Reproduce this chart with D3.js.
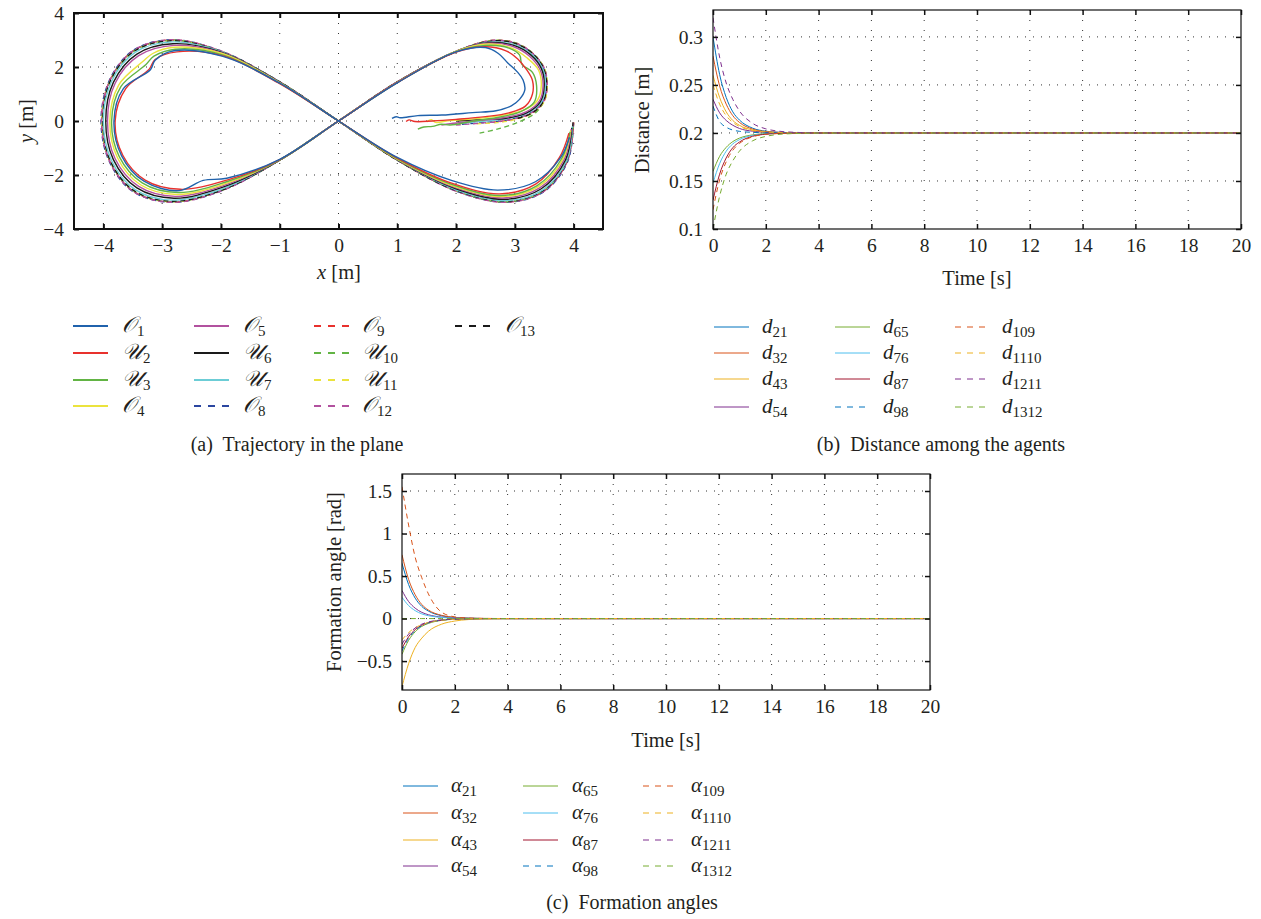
<!DOCTYPE html>
<html><head><meta charset="utf-8">
<script src="https://cdn.jsdelivr.net/npm/d3@7"></script>
<style>
body{margin:0;background:#fff}
svg{display:block}
text{font-family:"Liberation Serif","Times New Roman",serif;fill:#231f20}
</style>
</head><body>
<svg id="chart" width="1261" height="919"></svg>
<script>
// ---------------- DATA ----------------
// (a) trajectories [x, y] in metres
const traj1 = [[0.91,0.1],[0.98,0.16],[1.05,0.12],[1.35,0.2],[1.76,0.22],[2.28,0.31],[2.68,0.38],[2.94,0.56],[3.08,0.8],[3.17,1.15],[3.14,1.52],[3.05,1.8],[2.88,2.15],[2.72,2.5],[2.5,2.72],[2.0,2.56],[1.02,1.44],[0,0],[-1.0,-1.42],[-1.9,-2.12],[-2.3,-2.2],[-2.71,-2.58],[-3.31,-2.23],[-3.69,-1.29],[-3.82,0],[-3.66,1.2],[-3.2,1.9],[-3.12,2.25],[-2.8,2.6],[-1.98,2.4],[-1.0,1.4],[0,0],[1.0,-1.35],[1.92,-2.2],[2.71,-2.56],[3.35,-2.25],[3.78,-1.35],[3.93,-0.6]];
const traj2 = [[1.15,-0.02],[1.2,0.04],[1.3,-0.02],[1.6,0.0],[2.0,0.06],[2.5,0.16],[2.9,0.3],[3.18,0.55],[3.3,1.0],[3.3,1.5],[3.2,1.9],[3.05,2.3],[2.85,2.6],[2.5,2.75],[2.0,2.55],[1.02,1.45],[0,0],[-1.0,-1.43],[-1.9,-2.19],[-2.69,-2.53],[-3.29,-2.19],[-3.67,-1.27],[-3.8,0],[-3.62,1.2],[-3.22,1.92],[-3.12,2.28],[-2.75,2.56],[-1.95,2.4],[-1.0,1.38],[0,0],[1.01,-1.38],[1.95,-2.32],[2.74,-2.7],[3.36,-2.33],[3.76,-1.35],[3.92,-0.45]];
const traj3 = [[1.35,-0.3],[1.45,-0.22],[1.6,-0.2],[1.75,-0.12],[1.9,-0.15],[2.3,0.0],[2.75,0.15],[3.1,0.35],[3.33,0.7],[3.37,1.3],[3.3,1.8],[3.12,2.1],[3.08,2.45],[2.9,2.7],[2.5,2.8],[2.0,2.57],[1.03,1.46],[0,0],[-1.0,-1.44],[-1.93,-2.27],[-2.73,-2.65],[-3.34,-2.29],[-3.73,-1.32],[-3.86,0],[-3.7,1.28],[-3.28,2.08],[-3.14,2.4],[-2.78,2.66],[-1.97,2.45],[-1.02,1.42],[0,0],[1.02,-1.42],[1.97,-2.38],[2.76,-2.76],[3.38,-2.39],[3.8,-1.38],[3.94,-0.4]];
const traj4 = [[1.5,-0.03],[1.58,0.05],[1.65,-0.05],[1.9,0.02],[2.3,0.08],[2.75,0.2],[3.15,0.4],[3.38,0.75],[3.45,1.3],[3.4,1.9],[3.2,2.35],[2.95,2.7],[2.55,2.85],[2.0,2.58],[1.03,1.47],[0,0],[-1.01,-1.45],[-1.95,-2.34],[-2.75,-2.72],[-3.37,-2.36],[-3.76,-1.36],[-3.89,0],[-3.74,1.33],[-3.33,2.2],[-3.16,2.5],[-2.8,2.73],[-1.98,2.5],[-1.02,1.44],[0,0],[1.02,-1.44],[1.98,-2.43],[2.78,-2.8],[3.4,-2.43],[3.82,-1.4],[3.95,-0.35]];
const traj5 = [[1.75,-0.15],[1.9,-0.1],[2.3,0.0],[2.8,0.12],[3.2,0.35],[3.42,0.75],[3.48,1.3],[3.43,1.9],[3.25,2.4],[2.98,2.75],[2.55,2.88],[2.01,2.59],[1.03,1.48],[0,0],[-1.02,-1.46],[-1.97,-2.4],[-2.78,-2.79],[-3.4,-2.42],[-3.8,-1.4],[-3.93,0],[-3.8,1.4],[-3.4,2.42],[-2.8,2.8],[-1.99,2.52],[-1.03,1.46],[0,0],[1.03,-1.46],[1.99,-2.47],[2.8,-2.85],[3.43,-2.47],[3.84,-1.42],[3.96,-0.3]];
const traj6 = [[2.0,0.0],[2.4,0.05],[2.85,0.1],[3.2,0.3],[3.43,0.7],[3.5,1.3],[3.45,1.95],[3.27,2.45],[2.98,2.8],[2.55,2.9],[2.01,2.59],[1.03,1.48],[0,0],[-1.02,-1.47],[-1.98,-2.46],[-2.8,-2.86],[-3.43,-2.48],[-3.83,-1.43],[-3.96,0],[-3.83,1.43],[-3.43,2.48],[-2.82,2.86],[-2.0,2.55],[-1.03,1.47],[0,0],[1.03,-1.47],[2.0,-2.51],[2.82,-2.9],[3.45,-2.51],[3.86,-1.45],[3.97,-0.25]];
const traj7 = [[2.06,-0.08],[2.4,-0.02],[2.85,0.08],[3.22,0.3],[3.45,0.7],[3.52,1.3],[3.47,1.95],[3.28,2.48],[3.0,2.82],[2.56,2.92],[2.02,2.6],[1.04,1.49],[0,0],[-1.03,-1.48],[-2.0,-2.53],[-2.83,-2.93],[-3.46,-2.54],[-3.86,-1.47],[-4.0,0],[-3.86,1.47],[-3.46,2.54],[-2.83,2.93],[-2.01,2.58],[-1.04,1.49],[0,0],[1.04,-1.49],[2.01,-2.56],[2.84,-2.95],[3.47,-2.56],[3.88,-1.47],[3.98,-0.2]];
const traj8 = [[2.1,-0.12],[2.5,-0.05],[2.9,0.05],[3.25,0.28],[3.47,0.7],[3.54,1.3],[3.49,1.95],[3.3,2.5],[3.0,2.88],[2.6,2.97],[2.02,2.6],[1.04,1.5],[0,0],[-1.04,-1.5],[-2.02,-2.61],[-2.85,-3.01],[-3.5,-2.61],[-3.9,-1.5],[-4.04,0],[-3.9,1.5],[-3.5,2.61],[-2.85,3.01],[-2.02,2.61],[-1.04,1.5],[0,0],[1.04,-1.5],[2.02,-2.61],[2.85,-3.01],[3.5,-2.61],[3.9,-1.5],[4.0,-0.05]];
const traj9 = [[2.6,-0.05],[2.95,0.05],[3.28,0.28],[3.49,0.7],[3.55,1.3],[3.5,1.95],[3.3,2.52],[3.0,2.9],[2.6,2.98],[2.02,2.6],[1.04,1.5],[0,0],[-1.04,-1.5],[-2.02,-2.6],[-2.85,-3.0],[-3.49,-2.6],[-3.89,-1.5],[-4.03,0],[-3.89,1.5],[-3.49,2.6],[-2.85,3.0],[-2.02,2.6],[-1.04,1.5],[0,0],[1.04,-1.5],[2.02,-2.6],[2.85,-3.0],[3.49,-2.6],[3.89,-1.5],[4.0,-0.05]];
const traj10 = [[2.4,-0.45],[2.7,-0.3],[3.05,-0.05],[3.35,0.3],[3.5,0.75],[3.55,1.3],[3.5,1.95],[3.3,2.52],[3.0,2.9],[2.6,2.98],[2.02,2.59],[1.04,1.5],[0,0],[-1.04,-1.5],[-2.02,-2.59],[-2.84,-2.99],[-3.48,-2.59],[-3.88,-1.5],[-4.02,0],[-3.88,1.5],[-3.48,2.59],[-2.84,2.99],[-2.02,2.59],[-1.04,1.5],[0,0],[1.04,-1.5],[2.02,-2.59],[2.84,-2.99],[3.48,-2.59],[3.88,-1.5],[4.0,-0.05]];
const traj11 = [[2.35,-0.1],[2.7,-0.06],[3.0,0.05],[3.3,0.3],[3.5,0.72],[3.55,1.3],[3.5,1.95],[3.3,2.5],[3.0,2.88],[2.6,2.97],[2.02,2.58],[1.04,1.49],[0,0],[-1.04,-1.49],[-2.02,-2.58],[-2.84,-2.98],[-3.48,-2.58],[-3.88,-1.49],[-4.02,0],[-3.88,1.49],[-3.48,2.58],[-2.84,2.98],[-2.02,2.58],[-1.04,1.49],[0,0],[1.04,-1.49],[2.02,-2.58],[2.84,-2.98],[3.48,-2.58],[3.88,-1.49],[4.0,-0.05]];
const traj12 = [[2.0,-0.15],[2.4,-0.08],[2.85,0.02],[3.25,0.27],[3.48,0.7],[3.55,1.3],[3.5,1.95],[3.3,2.51],[3.0,2.89],[2.6,2.98],[2.02,2.6],[1.04,1.5],[0,0],[-1.04,-1.5],[-2.02,-2.61],[-2.85,-3.01],[-3.49,-2.61],[-3.89,-1.5],[-4.03,0],[-3.89,1.5],[-3.49,2.61],[-2.85,3.01],[-2.02,2.61],[-1.04,1.5],[0,0],[1.04,-1.5],[2.02,-2.61],[2.85,-3.01],[3.49,-2.61],[3.89,-1.5],[4.0,-0.05]];
const traj13 = [[3.05,0.1],[3.3,0.3],[3.48,0.7],[3.54,1.3],[3.49,1.95],[3.3,2.5],[3.0,2.88],[2.6,2.96],[2.01,2.58],[1.03,1.49],[0,0],[-1.03,-1.49],[-2.01,-2.58],[-2.84,-2.97],[-3.48,-2.58],[-3.88,-1.49],[-4.01,0],[-3.88,1.49],[-3.48,2.58],[-2.84,2.97],[-2.01,2.58],[-1.03,1.49],[0,0],[1.03,-1.49],[2.01,-2.58],[2.84,-2.97],[3.48,-2.58],[3.88,-1.49],[3.99,-0.05]];
const agentNames = ["𝒪","𝒰","𝒰","𝒪","𝒪","𝒰","𝒰","𝒪","𝒪","𝒰","𝒰","𝒪","𝒪"];
const agentSubs = ["1","2","3","4","5","6","7","8","9","10","11","12","13"];
const trajXTicks = [-4,-3,-2,-1,0,1,2,3,4];
const trajYTicks = [-4,-2,0,2,4];

// (b) distances vs time
const timeS = [0,0.25,0.5,0.75,1,1.5,2,2.5,3,4,20];
const d21   = [0.300,0.261,0.237,0.222,0.2135,0.205,0.2018,0.2007,0.2002,0.2,0.2];
const d32   = [0.280,0.249,0.230,0.218,0.211,0.204,0.2014,0.2006,0.2002,0.2,0.2];
const d43   = [0.260,0.237,0.222,0.213,0.208,0.203,0.201,0.2004,0.2001,0.2,0.2];
const d54   = [0.235,0.221,0.213,0.208,0.2047,0.2018,0.2006,0.2002,0.2,0.2,0.2];
const d65   = [0.160,0.1756,0.185,0.191,0.1946,0.198,0.1993,0.1997,0.1999,0.2,0.2];
const d76   = [0.148,0.168,0.181,0.1886,0.193,0.1974,0.199,0.1996,0.1999,0.2,0.2];
const d87   = [0.130,0.157,0.174,0.1846,0.1905,0.1965,0.1987,0.1995,0.1999,0.2,0.2];
const d98   = [0.228,0.212,0.206,0.203,0.2017,0.2006,0.2002,0.2,0.2,0.2,0.2];
const d109  = [0.120,0.151,0.170,0.182,0.189,0.196,0.1986,0.1994,0.1998,0.2,0.2];
const d1110 = [0.250,0.230,0.218,0.211,0.2068,0.2025,0.2009,0.2004,0.2001,0.2,0.2];
const d1211 = [0.320,0.279,0.252,0.235,0.223,0.210,0.2043,0.2018,0.2008,0.2001,0.2];
const d1312 = [0.100,0.134,0.157,0.171,0.181,0.1918,0.1964,0.1985,0.1993,0.1999,0.2];
const distSubs = ["21","32","43","54","65","76","87","98","109","1110","1211","1312"];
const distYTicks = [0.1,0.15,0.2,0.25,0.3];
const timeTicks = [0,2,4,6,8,10,12,14,16,18,20];

// (c) formation angles vs time
const a21   = [0.65,0.40,0.24,0.143,0.088,0.033,0.012,0.005,0.001,0,0];
const a32   = [0.75,0.46,0.28,0.165,0.10,0.038,0.014,0.005,0.002,0,0];
const a43   = [-0.8,-0.53,-0.34,-0.23,-0.15,-0.066,-0.029,-0.012,-0.005,-0.001,0];
const a54   = [0.33,0.20,0.122,0.073,0.045,0.017,0.006,0.002,0.001,0,0];
const a65   = [-0.42,-0.256,-0.155,-0.092,-0.057,-0.021,-0.008,-0.003,-0.001,0,0];
const a76   = [0.25,0.153,0.093,0.055,0.034,0.013,0.005,0.002,0,0,0];
const a87   = [-0.35,-0.214,-0.13,-0.077,-0.047,-0.018,-0.006,-0.002,-0.001,0,0];
const a98   = [-0.38,-0.232,-0.141,-0.084,-0.051,-0.019,-0.007,-0.003,-0.001,0,0];
const a109  = [1.55,1.10,0.72,0.48,0.29,0.075,0.02,0.006,0.002,0,0];
const a1110 = [-0.25,-0.165,-0.107,-0.072,-0.047,-0.02,-0.009,-0.004,-0.002,0,0];
const a1211 = [-0.30,-0.183,-0.111,-0.066,-0.04,-0.015,-0.005,-0.002,-0.001,0,0];
const a1312 = [0,0,0,0,0,0,0,0,0,0,0];
const angleYTicks = [-0.5,0,0.5,1,1.5];

// ---------------- STYLE ----------------
const trajColors = ["#2062ac","#e8312d","#62b444","#ebe33d","#b2519f","#1a1a1a","#6ccdd6","#2b46a0","#e8312d","#62b444","#ebe33d","#b2519f","#1a1a1a"];
const trajDashed = [false,false,false,false,false,false,false,true,true,true,true,true,true];
const mlColors = ["#0072BD","#D95319","#EDB120","#7E2F8E","#77AC30","#4DBEEE","#A2142F","#0072BD","#D95319","#EDB120","#7E2F8E","#77AC30"];
const mlDashed = [false,false,false,false,false,false,false,true,true,true,true,true];
const FONT = '"Liberation Serif","Times New Roman",serif';
const minus = s => String(s).replace("-", "\u2212");
const TICKFS = 19.5, LABFS = 20.5, CAPFS = 20;

const svg = d3.select("#chart");

function panel(cfg) {
  const g = svg.append("g");
  const x = d3.scaleLinear().domain(cfg.xDomain).range([cfg.left, cfg.right]);
  const y = d3.scaleLinear().domain(cfg.yDomain).range([cfg.bottom, cfg.top]);
  const id = "clip" + Math.round(cfg.left) + "_" + Math.round(cfg.top);
  svg.append("clipPath").attr("id", id).append("rect")
    .attr("x", cfg.left).attr("y", cfg.top)
    .attr("width", cfg.right - cfg.left).attr("height", cfg.bottom - cfg.top);
  const grid = g.append("g").attr("stroke", "#333").attr("stroke-width", 1);
  cfg.xGrid.forEach(v => grid.append("line")
    .attr("x1", x(v)).attr("x2", x(v)).attr("y1", cfg.top).attr("y2", cfg.bottom)
    .attr("stroke-dasharray", "1,9"));
  cfg.yGrid.forEach(v => grid.append("line")
    .attr("y1", y(v)).attr("y2", y(v)).attr("x1", cfg.left).attr("x2", cfg.right)
    .attr("stroke-dasharray", "1,7"));
  const dataG = g.append("g").attr("clip-path", `url(#${id})`);
  const tl = 5;
  const bottomAx = g.append("g").attr("transform", `translate(0,${cfg.bottom})`)
    .call(d3.axisBottom(x).tickValues(cfg.xTicks).tickSize(-tl).tickPadding(9).tickFormat(cfg.xFmt));
  const topAx = g.append("g").attr("transform", `translate(0,${cfg.top})`)
    .call(d3.axisTop(x).tickValues(cfg.xTicks).tickSize(-tl).tickFormat(""));
  const leftAx = g.append("g").attr("transform", `translate(${cfg.left},0)`)
    .call(d3.axisLeft(y).tickValues(cfg.yTicks).tickSize(-tl).tickPadding(10).tickFormat(cfg.yFmt));
  const rightAx = g.append("g").attr("transform", `translate(${cfg.right},0)`)
    .call(d3.axisRight(y).tickValues(cfg.yTicks).tickSize(-tl).tickFormat(""));
  [bottomAx, topAx, leftAx, rightAx].forEach(a => {
    a.attr("font-family", FONT).attr("font-size", TICKFS);
    a.select(".domain").remove();
    a.selectAll(".tick line").attr("stroke", "#111").attr("stroke-width", cfg.tickW);
    a.selectAll("text").attr("font-family", FONT).attr("font-size", TICKFS).attr("fill", "#231f20");
  });
  g.append("rect").attr("x", cfg.left).attr("y", cfg.top)
    .attr("width", cfg.right - cfg.left).attr("height", cfg.bottom - cfg.top)
    .attr("fill", "none").attr("stroke", "#111").attr("stroke-width", cfg.boxW);
  return {x, y, dataG, g};
}

// ---------- (a) trajectory ----------
const pa = panel({left:74, right:603, top:13, bottom:229, xDomain:[-4.5,4.5], yDomain:[-4,4],
  xTicks: trajXTicks, yTicks: trajYTicks, xGrid: trajXTicks, yGrid:[-2,0,2],
  xFmt: d => minus(d), yFmt: d => minus(d), boxW: 2, tickW: 2});
const trajs = [traj1,traj2,traj3,traj4,traj5,traj6,traj7,traj8,traj9,traj10,traj11,traj12,traj13];
const lineA = d3.line().x(d => pa.x(d[0])).y(d => pa.y(d[1])).curve(d3.curveCatmullRom.alpha(0.5));
const order = [7,8,9,10,11,12,6,5,4,3,2,1,0];
order.forEach(i => {
  pa.dataG.append("path").datum(trajs[i]).attr("d", lineA)
    .attr("fill", "none").attr("stroke", trajColors[i]).attr("stroke-width", 1.4)
    .attr("stroke-dasharray", trajDashed[i] ? "5,3.5" : null);
});
svg.append("text").attr("x", 339).attr("y", 279).attr("text-anchor", "middle").attr("font-size", LABFS)
  .html('<tspan font-style="italic">x</tspan> [m]');
svg.append("text").attr("transform", "translate(33,121) rotate(-90)").attr("text-anchor", "middle").attr("font-size", LABFS)
  .html('<tspan font-style="italic">y</tspan> [m]');

// ---------- (b) distances ----------
const pb = panel({left:713, right:1241, top:10, bottom:229, xDomain:[0,20], yDomain:[0.1,0.328],
  xTicks: timeTicks, yTicks: distYTicks, xGrid: timeTicks.slice(1,-1), yGrid:[0.15,0.2,0.25,0.3],
  xFmt: d => d, yFmt: d => d, boxW: 1.2, tickW: 1.5});
const distSeries = [d21,d32,d43,d54,d65,d76,d87,d98,d109,d1110,d1211,d1312];
distSeries.forEach((s, i) => {
  const line = d3.line().x((d, k) => pb.x(timeS[k])).y(d => pb.y(d)).curve(d3.curveMonotoneX);
  pb.dataG.append("path").datum(s).attr("d", line).attr("fill", "none")
    .attr("stroke", mlColors[i]).attr("stroke-width", 1)
    .attr("stroke-dasharray", mlDashed[i] ? "5,4" : null);
});
svg.append("text").attr("x", 977).attr("y", 285).attr("text-anchor", "middle").attr("font-size", LABFS).text("Time [s]");
svg.append("text").attr("transform", "translate(649,120) rotate(-90)").attr("text-anchor", "middle").attr("font-size", LABFS).text("Distance [m]");

// ---------- (c) formation angles ----------
const pc = panel({left:402, right:930, top:474, bottom:690, xDomain:[0,20], yDomain:[-0.84,1.70],
  xTicks: timeTicks, yTicks: angleYTicks, xGrid: timeTicks.slice(1,-1), yGrid:[-0.5,0,0.5,1,1.5],
  xFmt: d => d, yFmt: d => minus(d), boxW: 1.2, tickW: 1.5});
const angSeries = [a21,a32,a43,a54,a65,a76,a87,a98,a109,a1110,a1211,a1312];
angSeries.forEach((s, i) => {
  const line = d3.line().x((d, k) => pc.x(timeS[k])).y(d => pc.y(d)).curve(d3.curveMonotoneX);
  pc.dataG.append("path").datum(s).attr("d", line).attr("fill", "none")
    .attr("stroke", mlColors[i]).attr("stroke-width", 1)
    .attr("stroke-dasharray", mlDashed[i] ? "5,4" : null);
});
svg.append("text").attr("x", 666).attr("y", 747).attr("text-anchor", "middle").attr("font-size", LABFS).text("Time [s]");
svg.append("text").attr("transform", "translate(341,582) rotate(-90)").attr("text-anchor", "middle").attr("font-size", LABFS).text("Formation angle [rad]");

// ---------- legends ----------
function legend(items, colX, txtX, rowY, lw, dash, makeText) {
  items.forEach((it, i) => {
    const c = Math.floor(i / 4), r = i % 4;
    const yy = rowY[r];
    svg.append("line").attr("x1", colX[c]).attr("x2", colX[c] + 35).attr("y1", yy).attr("y2", yy)
      .attr("stroke", it.color).attr("stroke-width", lw)
      .attr("stroke-dasharray", it.dashed ? dash : null);
    const t = svg.append("text").attr("x", txtX[c]).attr("y", yy + 6);
    makeText(t, it);
  });
}
legend(agentSubs.map((s, i) => ({name: agentNames[i], sub: s, color: trajColors[i], dashed: trajDashed[i]})),
  [73,194,314,455], [122,243,362,505], [326,353,380,406], 2, "7,7",
  (t, it) => {
    t.append("tspan").attr("font-size", 22).attr("font-family", '"DejaVu Serif","Noto Sans",serif').attr("font-style","italic").text(it.name);
    t.append("tspan").attr("font-size", 15).attr("dy", 4).attr("dx", 1).text(it.sub);
  });
legend(distSubs.map((s, i) => ({sub: s, color: mlColors[i], dashed: mlDashed[i]})),
  [714,835,955], [762,883,1002], [327,353,379,407], 1, "6,6",
  (t, it) => {
    t.append("tspan").attr("font-size", 21).attr("font-style", "italic").text("d");
    t.append("tspan").attr("font-size", 15).attr("dy", 4).text(it.sub);
  });
legend(distSubs.map((s, i) => ({sub: s, color: mlColors[i], dashed: mlDashed[i]})),
  [403,523,643], [451,572,691], [786,813,840,866], 1, "6,6",
  (t, it) => {
    t.append("tspan").attr("font-size", 21).attr("font-style", "italic").text("α");
    t.append("tspan").attr("font-size", 15).attr("dy", 4).text(it.sub);
  });

// ---------- captions ----------
svg.append("text").attr("x", 297).attr("y", 451).attr("text-anchor", "middle").attr("font-size", CAPFS).attr("xml:space","preserve").text("(a)  Trajectory in the plane");
svg.append("text").attr("x", 941).attr("y", 451).attr("text-anchor", "middle").attr("font-size", CAPFS).attr("xml:space","preserve").text("(b)  Distance among the agents");
svg.append("text").attr("x", 632).attr("y", 909).attr("text-anchor", "middle").attr("font-size", CAPFS).attr("xml:space","preserve").text("(c)  Formation angles");
</script>
</body></html>
